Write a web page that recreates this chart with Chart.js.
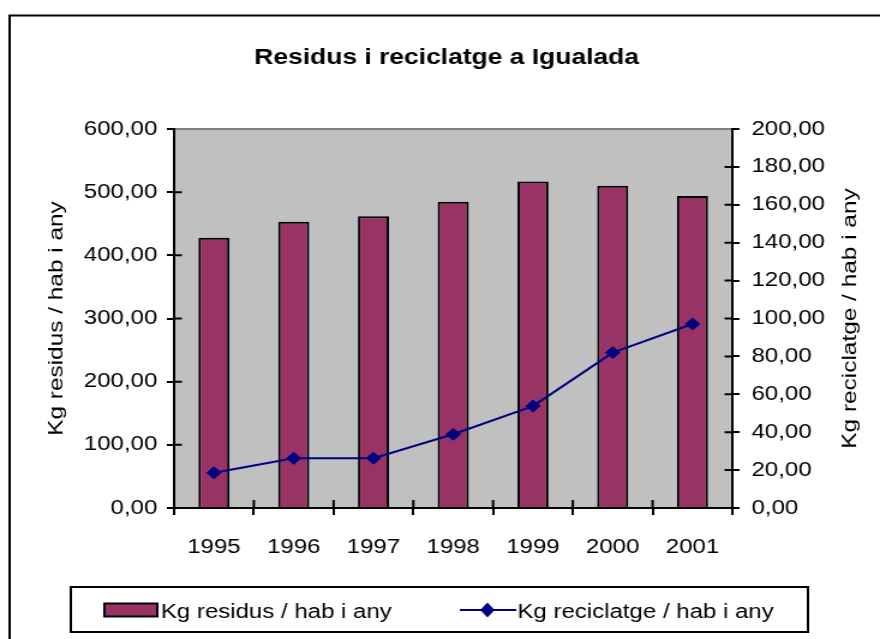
<!DOCTYPE html>
<html>
<head>
<meta charset="utf-8">
<script src="https://cdn.jsdelivr.net/npm/chart.js@4.4.1/dist/chart.umd.min.js"></script>
<style>
html,body{margin:0;padding:0;background:#fff;overflow:hidden}
#c{display:block}
</style>
</head>
<body>
<canvas id="c" width="733" height="639" style="width:880px;height:639px"></canvas>
<script>
// ---- data ----
const years = ['1995', '1996', '1997', '1998', '1999', '2000', '2001'];
const residus = [428, 453, 462, 485, 517, 510, 494];
const reciclatge = [18.6, 26.2, 26.3, 38.9, 53.8, 82.0, 97.1];
const leftTickLabels = ['0,00', '100,00', '200,00', '300,00', '400,00', '500,00', '600,00'];
const rightTickLabels = ['0,00', '20,00', '40,00', '60,00', '80,00', '100,00', '120,00', '140,00', '160,00', '180,00', '200,00'];
const chartTitle = 'Residus i reciclatge a Igualada';
const residusLabel = 'Kg residus / hab i any';
const reciclatgeLabel = 'Kg reciclatge / hab i any';

const FONT = '"Liberation Sans", Arial, Helvetica, sans-serif';
const SX = 880 / 733;   // horizontal stretch of the canvas on screen
const TS = 1.22;        // text width factor of the original rendering

function drawVerticalTitle(ctx, text, cxScreen, cy) {
  ctx.save();
  ctx.scale(1 / SX, 1);
  ctx.translate(cxScreen, cy);
  ctx.rotate(-Math.PI / 2);
  ctx.scale(TS, 1);
  ctx.font = '20px ' + FONT;
  ctx.fillStyle = '#000';
  ctx.textAlign = 'center';
  ctx.textBaseline = 'middle';
  ctx.fillText(text, 0, 0);
  ctx.restore();
}

const framePlugin = {
  id: 'frame',
  beforeDraw(chart) {
    const {ctx, chartArea: a, width, height} = chart;
    ctx.save();
    ctx.fillStyle = '#fff';
    ctx.fillRect(0, 0, width, height);
    ctx.strokeStyle = '#000';
    ctx.lineWidth = 2;
    ctx.strokeRect(8, 15.5, width + 40, height + 40);
    ctx.fillStyle = '#c0c0c0';
    ctx.fillRect(a.left, a.top, a.right - a.left, a.bottom - a.top);
    ctx.strokeStyle = '#808080';
    ctx.beginPath();
    ctx.moveTo(a.left, a.top);
    ctx.lineTo(a.right, a.top);
    ctx.stroke();
    ctx.restore();
  },
  afterDraw(chart) {
    const {ctx, chartArea: a, scales} = chart;
    const x = scales.x, y = scales.y, y1 = scales.y1;
    ctx.save();
    ctx.strokeStyle = '#000';
    ctx.lineWidth = 2;
    ctx.beginPath();
    for (let i = 1; i < y.ticks.length - 1; i++) {
      const py = y.getPixelForTick(i);
      ctx.moveTo(a.left, py); ctx.lineTo(a.left + 6.5, py);
    }
    for (let i = 1; i < y1.ticks.length - 1; i++) {
      const py = y1.getPixelForTick(i);
      ctx.moveTo(a.right - 6.5, py); ctx.lineTo(a.right, py);
    }
    for (let i = 1; i < years.length; i++) {
      const px = (x.getPixelForTick(i - 1) + x.getPixelForTick(i)) / 2;
      ctx.moveTo(px, a.bottom); ctx.lineTo(px, a.bottom - 8);
    }
    ctx.stroke();
    ctx.restore();

    // axis titles (both read bottom-to-top, centred on the plot area)
    const midY = (a.top + a.bottom) / 2;
    drawVerticalTitle(ctx, chart.options.scales.y.title.text, 57, midY);
    drawVerticalTitle(ctx, chart.options.scales.y1.title.text, 851, midY);

    // legend box
    ctx.save();
    const ds0 = chart.data.datasets[0], ds1 = chart.data.datasets[1];
    const bx = 59, by = 587, bw = 614, bh = 45;
    ctx.fillStyle = '#fff';
    ctx.fillRect(bx, by, bw, bh);
    ctx.strokeStyle = '#000';
    ctx.lineWidth = 2;
    ctx.strokeRect(bx, by, bw, bh);
    const cy = 610;
    // bar swatch
    ctx.fillStyle = ds0.backgroundColor;
    ctx.fillRect(87, 603.5, 44, 13);
    ctx.strokeRect(87, 603.5, 44, 13);
    ctx.fillStyle = '#000';
    ctx.font = '20px ' + FONT;
    ctx.textBaseline = 'middle';
    ctx.textAlign = 'left';
    ctx.fillText(ds0.label, 134, cy + 2);
    // line swatch
    ctx.strokeStyle = ds1.borderColor;
    ctx.lineWidth = 2;
    ctx.beginPath();
    ctx.moveTo(383, cy); ctx.lineTo(430, cy);
    ctx.stroke();
    ctx.fillStyle = ds1.pointBackgroundColor;
    ctx.beginPath();
    ctx.moveTo(406, cy - 7.5); ctx.lineTo(412, cy); ctx.lineTo(406, cy + 7.5); ctx.lineTo(400, cy);
    ctx.closePath();
    ctx.fill();
    ctx.fillStyle = '#000';
    ctx.fillText(ds1.label, 431, cy + 2);
    ctx.restore();
  }
};

new Chart(document.getElementById('c'), {
  type: 'bar',
  data: {
    labels: years,
    datasets: [
      {
        type: 'bar',
        label: residusLabel,
        data: residus,
        yAxisID: 'y',
        backgroundColor: '#993366',
        borderColor: '#000',
        borderWidth: 2,
        barPercentage: 0.39,
        categoryPercentage: 1,
        order: 2
      },
      {
        type: 'line',
        label: reciclatgeLabel,
        data: reciclatge,
        yAxisID: 'y1',
        borderColor: '#000080',
        borderWidth: 2,
        tension: 0,
        pointStyle: 'rectRot',
        pointRadius: 6,
        pointBackgroundColor: '#000080',
        pointBorderColor: '#000080',
        pointBorderWidth: 1,
        order: 1
      }
    ]
  },
  options: {
    responsive: false,
    devicePixelRatio: 1,
    animation: false,
    events: [],
    layout: {padding: {left: 11, right: 0, top: 0, bottom: 71}},
    plugins: {
      legend: {display: false},
      tooltip: {enabled: false},
      title: {
        display: true,
        text: chartTitle,
        color: '#000',
        font: {size: 22, weight: 'bold', family: FONT},
        padding: {top: 45, bottom: 57.6}
      }
    },
    scales: {
      x: {
        type: 'category',
        offset: true,
        grid: {offset: true, drawOnChartArea: false, drawTicks: true, tickLength: 7, color: '#000', lineWidth: 2},
        border: {display: true, color: '#000', width: 2},
        ticks: {color: '#000', font: {size: 20, family: FONT}, padding: 20, maxRotation: 0, autoSkip: false},
        afterFit(s) { s.height = 60; }
      },
      y: {
        position: 'left',
        min: 0,
        max: 600,
        grid: {drawOnChartArea: false, tickLength: 6, color: '#000', lineWidth: 2},
        border: {display: true, color: '#000', width: 2},
        ticks: {stepSize: 100, color: '#000', font: {size: 20, family: FONT}, padding: 8,
                callback: (v, i) => leftTickLabels[i]},
        title: {display: false, text: residusLabel},
        afterFit(s) { s.width = 134; }
      },
      y1: {
        position: 'right',
        min: 0,
        max: 200,
        grid: {drawOnChartArea: false, tickLength: 6, color: '#000', lineWidth: 2},
        border: {display: true, color: '#000', width: 2},
        ticks: {stepSize: 20, color: '#000', font: {size: 20, family: FONT}, padding: 10,
                callback: (v, i) => rightTickLabels[i]},
        title: {display: false, text: reciclatgeLabel},
        afterFit(s) { s.width = 123; }
      }
    }
  },
  plugins: [framePlugin]
});
</script>
</body>
</html>
